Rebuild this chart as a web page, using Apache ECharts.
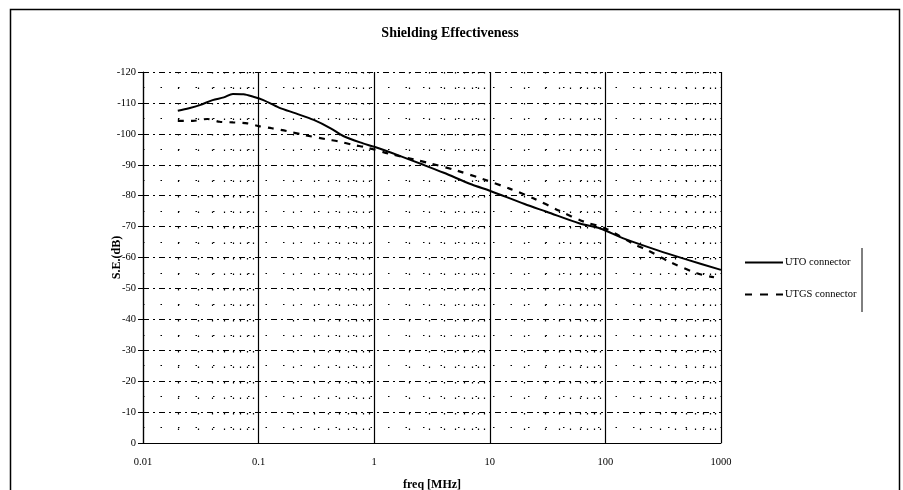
<!DOCTYPE html>
<html>
<head>
<meta charset="utf-8">
<script src="https://cdn.jsdelivr.net/npm/echarts@6/dist/echarts.min.js"></script>
<style>
html,body{margin:0;padding:0;background:#fff;}
#chart{width:903px;height:490px;}
</style>
</head>
<body>
<div id="chart"></div>
<script>
const titleText = 'Shielding Effectiveness';
const xName = 'freq [MHz]';
const yName = 'S.E.(dB)';
const seriesNames = ['UTO connector', 'UTGS connector'];

const utoFreq = [0.02, 0.025, 0.031, 0.04, 0.05, 0.06, 0.074, 0.09, 0.11, 0.15, 0.21, 0.3, 0.42, 0.54, 0.8, 1, 1.6, 2.7, 4, 7, 10, 20, 31, 60, 90, 143, 280, 500, 1000];
const utoSE = [-107.5, -108.3, -109.3, -110.9, -111.8, -112.9, -112.8, -112.0, -110.9, -108.5, -106.6, -104.5, -101.8, -99.3, -96.9, -95.8, -93.1, -89.9, -87.4, -83.6, -81.6, -77.3, -74.8, -71.0, -69.4, -66.2, -62.4, -59.4, -56.0];

const utgsFreq = [0.02, 0.027, 0.036, 0.046, 0.06, 0.08, 0.1, 0.13, 0.175, 0.25, 0.39, 0.5, 0.66, 0.86, 1.37, 2.34, 3, 5.2, 8.8, 15, 24, 40, 65, 100, 175, 230, 360, 620, 870];
const utgsSE = [-104.2, -104.2, -104.8, -103.9, -103.7, -103.4, -102.5, -101.8, -100.9, -99.6, -98.2, -97.5, -96.4, -95.6, -93.5, -91.5, -90.5, -88.1, -85.3, -82.2, -79.1, -75.1, -71.6, -69.4, -64.4, -62.4, -58.6, -54.9, -53.6];

const xMin = 0.01, xMax = 1000;
const yMin = -120, yMax = 0, yStep = 10;
const minorFreqs = [];
[0.01, 0.1, 1, 10, 100].forEach(d => { for (let k = 2; k <= 9; k++) minorFreqs.push(+(d * k).toPrecision(3)); });

const serif = 'Liberation Serif';
const solidIcon = 'path://M0,0h38v2H0z';
const dashIcon = 'path://M0,0h7v2H0z M15,0h8v2h-8z M31,0h7v2h-7z';
const chart = echarts.init(document.getElementById('chart'));
chart.setOption({
  backgroundColor: '#fff',
  animation: false,
  title: {
    text: titleText, left: 445, top: 21, textAlign: 'center',
    textStyle: { fontFamily: serif, fontWeight: 'bold', fontSize: 14, color: '#000' }
  },
  graphic: [
    { type: 'rect', shape: { x: 10.5, y: 9.5, width: 889, height: 495 }, style: { fill: 'none', stroke: '#000', lineWidth: 1.5 }, silent: true },
    { type: 'line', shape: { x1: 862, y1: 248, x2: 862, y2: 312 }, style: { stroke: '#000', lineWidth: 1 }, silent: true }
  ],
  legend: {
    orient: 'vertical', left: 740, top: 252, itemGap: 21, itemWidth: 38, itemHeight: 2,
    textStyle: { fontFamily: serif, fontSize: 10.5, color: '#000', padding: [0, 0, 0, -3] },
    data: [
      { name: seriesNames[0], icon: solidIcon },
      { name: seriesNames[1], icon: dashIcon }
    ]
  },
  grid: { left: 143, right: 182, top: 72, bottom: 47, outerBoundsMode: 'none' },
  xAxis: {
    type: 'log', logBase: 10, min: xMin, max: xMax,
    name: xName, nameLocation: 'middle', nameGap: 36, nameMoveOverlap: false,
    nameTextStyle: { fontFamily: serif, fontWeight: 'bold', fontSize: 12, color: '#000' },
    axisLine: { show: true, lineStyle: { color: '#000', width: 1 } },
    axisTick: { show: false },
    axisLabel: { fontFamily: serif, fontSize: 10.5, color: '#000', margin: 14,
      formatter: v => String(+v.toPrecision(3)) },
    splitLine: { show: true, lineStyle: { color: '#000', width: 1.2, type: 'solid' } }
  },
  yAxis: {
    type: 'value', inverse: true, min: yMin, max: yMax, interval: yStep,
    name: yName, nameLocation: 'middle', nameGap: 20, nameRotate: 90, nameMoveOverlap: false,
    nameTextStyle: { fontFamily: serif, fontWeight: 'bold', fontSize: 12, color: '#000' },
    axisLine: { show: true, lineStyle: { color: '#000', width: 1.2 } },
    axisTick: { show: true, length: 5, lineStyle: { color: '#000' } },
    axisLabel: { fontFamily: serif, fontSize: 10.5, color: '#000', margin: 7 },
    splitLine: { show: true, lineStyle: { color: '#000', width: 1, type: [6, 4, 2, 4] } },
    minorTick: { show: false, splitNumber: 2 },
    minorSplitLine: { show: true, lineStyle: { color: '#000', width: 1.2, type: [1.5, 16] } }
  },
  series: [
    {
      name: seriesNames[0], type: 'line', symbol: 'none', smooth: 0.3,
      lineStyle: { color: '#000', width: 2, type: 'solid' }, itemStyle: { color: '#000' },
      data: utoFreq.map((f, i) => [f, utoSE[i]]),
      markLine: {
        silent: true, symbol: 'none', label: { show: false }, animation: false,
        lineStyle: { color: '#000', width: 1.2, type: [1.5, 14] },
        data: minorFreqs.map(f => ({ xAxis: f }))
      }
    },
    {
      name: seriesNames[1], type: 'line', symbol: 'none', smooth: 0.3,
      lineStyle: { color: '#000', width: 2.2, type: [6, 7] }, itemStyle: { color: '#000' },
      data: utgsFreq.map((f, i) => [f, utgsSE[i]])
    }
  ]
});
</script>
</body>
</html>
